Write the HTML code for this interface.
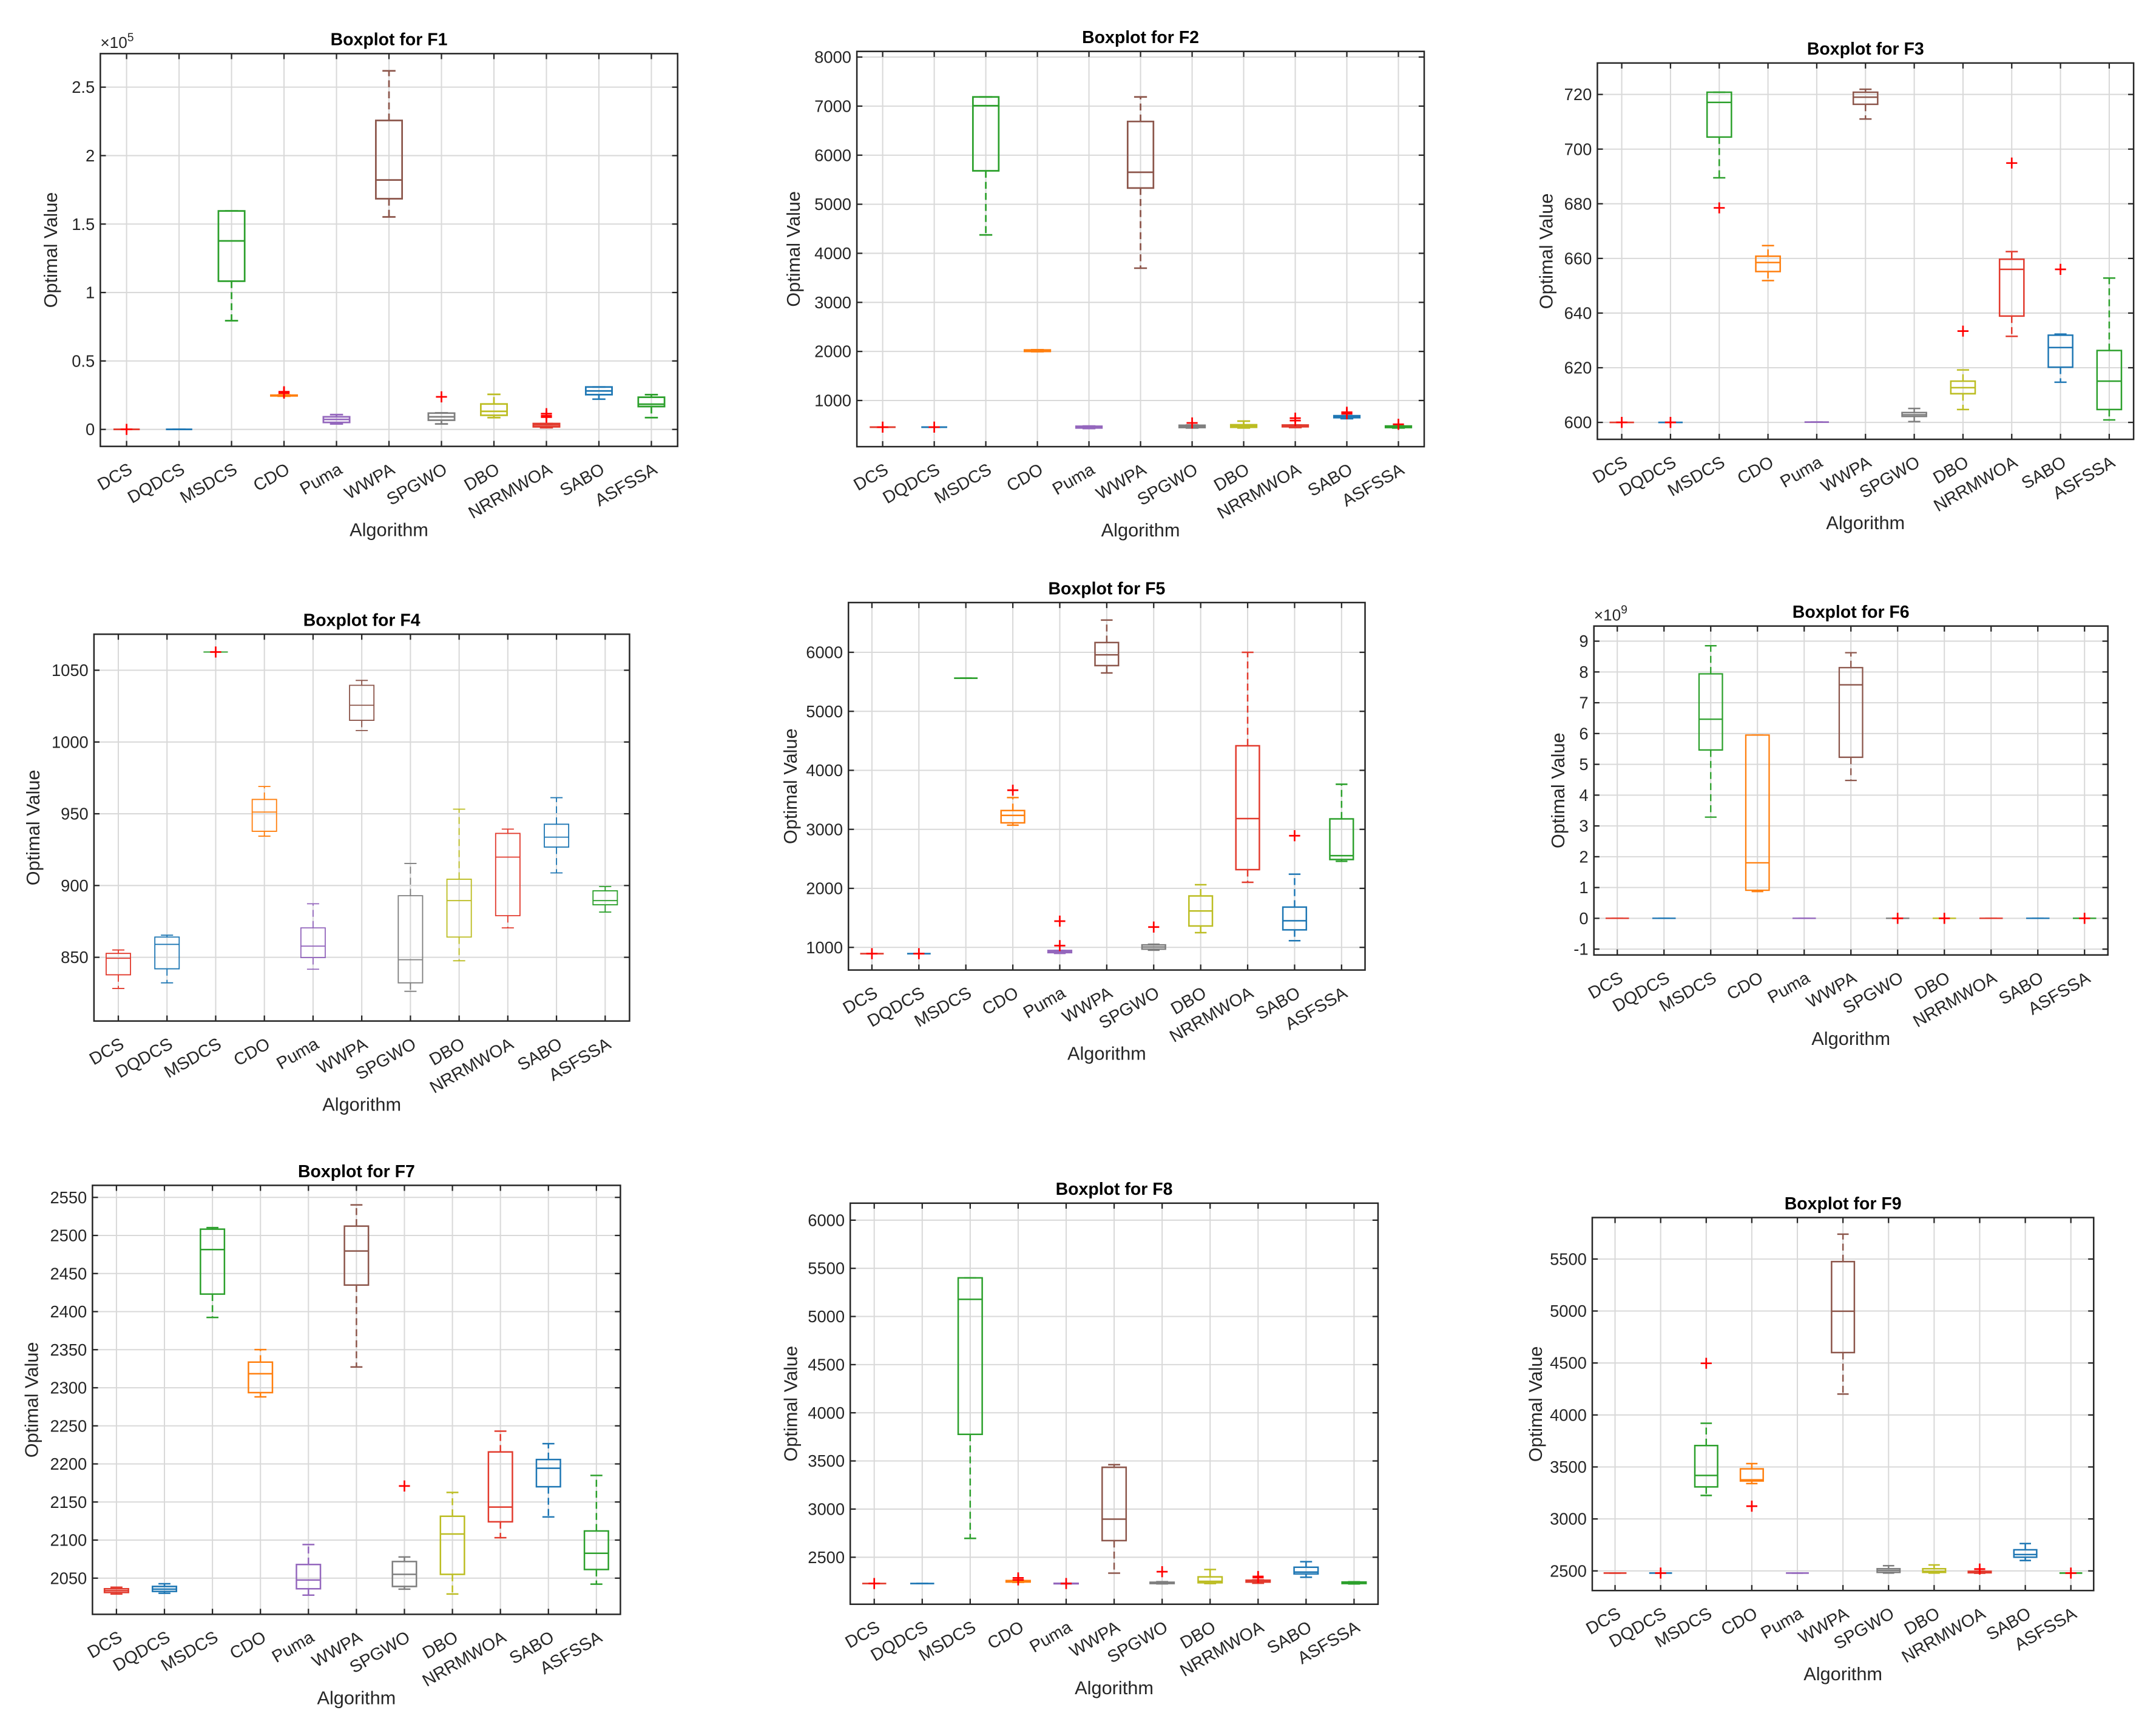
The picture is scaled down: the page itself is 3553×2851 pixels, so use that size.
<!DOCTYPE html>
<html><head><meta charset="utf-8"><title>Boxplots F1-F9</title>
<style>
html,body{margin:0;padding:0;background:#fff;}
svg{display:block;}
text{font-family:"Liberation Sans",Arial,sans-serif;fill:#262626;}
</style></head>
<body>
<svg id="fig" xmlns="http://www.w3.org/2000/svg" width="3553" height="2851" viewBox="0 0 1560 1251.8" preserveAspectRatio="none"></svg>
<script>
const categories = ['DCS','DQDCS','MSDCS','CDO','Puma','WWPA','SPGWO','DBO','NRRMWOA','SABO','ASFSSA'];

// F1 (x1e5)
const f1Low  = [0,0,0.794,0.243,0.040,1.552,0.040,0.086,0.013,0.221,0.086];
const f1Q1   = [0,0,1.083,0.245,0.051,1.685,0.067,0.103,0.019,0.254,0.167];
const f1Med  = [0,0,1.377,0.248,0.073,1.822,0.092,0.132,0.032,0.281,0.184];
const f1Q3   = [0,0,1.596,0.250,0.092,2.257,0.119,0.186,0.043,0.310,0.235];
const f1High = [0,0,1.596,0.252,0.108,2.619,0.121,0.256,0.043,0.310,0.254];
const f1Out  = [[0],[],[],[0.265,0.27,0.275],[],[],[0.238],[],[0.09,0.10,0.115],[],[]];
const f1Ticks = [0,0.5,1,1.5,2,2.5];
const f1TickLabels = ['0','0.5','1','1.5','2','2.5'];

// F2
const f2Low  = [458,458,4375,1995,430,3697,440,440,450,630,440];
const f2Q1   = [458,458,5681,2000,440,5331,450,455,465,650,450];
const f2Med  = [458,458,7008,2015,455,5652,470,480,480,665,460];
const f2Q3   = [458,458,7187,2030,475,6687,495,505,500,690,480];
const f2High = [458,458,7187,2035,480,7187,500,579,500,690,480];
const f2Out  = [[458],[458],[],[],[],[],[543],[],[590,640],[730,760],[515]];
const f2Ticks = [1000,2000,3000,4000,5000,6000,7000,8000];
const f2TickLabels = ['1000','2000','3000','4000','5000','6000','7000','8000'];

// F3
const f3Low  = [600,600,689.5,651.9,600.1,711.0,600.3,604.7,631.5,614.7,600.9];
const f3Q1   = [600,600,704.4,655.2,600.1,716.4,602.2,610.5,638.9,620.2,604.7];
const f3Med  = [600,600,717.1,658.5,600.1,719.0,602.8,612.7,656.0,627.4,615.1];
const f3Q3   = [600,600,720.8,660.8,600.1,720.8,603.6,615.1,659.7,631.9,626.3];
const f3High = [600,600,720.8,664.7,600.1,721.9,605.1,619.2,662.5,632.3,652.8];
const f3Out  = [[600],[600],[678.5],[],[],[],[],[633.4],[694.9],[656],[]];
const f3Ticks = [600,620,640,660,680,700,720];
const f3TickLabels = ['600','620','640','660','680','700','720'];

// F4
const f4Low  = [828.3,832.2,1062.7,934.4,841.7,1008.0,826.3,847.6,870.5,908.8,881.5];
const f4Q1   = [837.8,842.0,1062.7,937.8,849.8,1015.1,832.2,864.1,879.0,926.8,886.6];
const f4Med  = [849.3,859.0,1062.7,951.2,857.8,1025.6,848.3,889.5,919.8,933.7,889.5];
const f4Q3   = [852.7,864.1,1062.7,960.0,870.5,1039.5,892.9,904.4,936.3,942.7,896.3];
const f4High = [855.1,865.4,1062.7,969.0,887.3,1042.9,915.4,953.2,939.3,961.2,899.3];
const f4Out  = [[],[],[1062.7],[],[],[],[],[],[],[],[]];
const f4Ticks = [850,900,950,1000,1050];
const f4TickLabels = ['850','900','950','1000','1050'];

// F5
const f5Low  = [893,893,5561,3070,899,5650,953,1249,2103,1113,2459];
const f5Q1   = [893,893,5561,3111,911,5775,970,1362,2317,1297,2489];
const f5Med  = [893,893,5561,3236,929,5958,1006,1617,3183,1451,2554];
const f5Q3   = [893,893,5561,3319,947,6166,1042,1872,4416,1682,3177];
const f5High = [893,893,5561,3539,947,6546,1053,2062,6000,2240,3764];
const f5Out  = [[893],[893],[],[3663],[1030,1445],[],[1344],[],[],[2892],[]];
const f5Ticks = [1000,2000,3000,4000,5000,6000];
const f5TickLabels = ['1000','2000','3000','4000','5000','6000'];

// F6 (x1e9)
const f6Low  = [0,0,3.286,0.869,0,4.478,0,0,0,0,0];
const f6Q1   = [0,0,5.466,0.912,0,5.230,0,0,0,0,0];
const f6Med  = [0,0,6.465,1.803,0,7.582,0,0,0,0,0];
const f6Q3   = [0,0,7.937,5.950,0,8.140,0,0,0,0,0];
const f6High = [0,0,8.850,5.950,0,8.624,0,0,0,0,0];
const f6Out  = [[],[],[],[],[],[],[0],[0],[],[],[0]];
const f6Ticks = [-1,0,1,2,3,4,5,6,7,8,9];
const f6TickLabels = ['-1','0','1','2','3','4','5','6','7','8','9'];

// F7
const f7Low  = [2029.2,2030.2,2392.3,2288.1,2027.7,2327.3,2035.6,2029.2,2103.1,2130.4,2042.1];
const f7Q1   = [2031.2,2032.6,2423.0,2293.6,2036.1,2434.9,2039.1,2055.0,2124.0,2170.0,2061.4];
const f7Med  = [2033.6,2035.6,2481.5,2318.4,2047.5,2479.6,2055.0,2108.0,2143.3,2194.3,2082.7];
const f7Q3   = [2036.1,2039.1,2508.3,2333.7,2067.9,2512.3,2071.8,2131.3,2215.7,2205.8,2112.0];
const f7High = [2038.1,2042.6,2510.3,2350.1,2094.1,2540.1,2077.8,2162.6,2243.0,2226.6,2184.9];
const f7Out  = [[],[],[],[],[],[],[2171],[],[],[],[]];
const f7Ticks = [2050,2100,2150,2200,2250,2300,2350,2400,2450,2500,2550];
const f7TickLabels = ['2050','2100','2150','2200','2250','2300','2350','2400','2450','2500','2550'];

// F8
const f8Low  = [2227,2227,2696,2240,2224,2335,2224,2227,2230,2292,2223];
const f8Q1   = [2227,2227,3776,2243,2225,2673,2227,2235,2242,2327,2227];
const f8Med  = [2227,2227,5178,2250,2227,2896,2235,2250,2252,2346,2236];
const f8Q3   = [2227,2227,5401,2258,2229,3434,2240,2296,2262,2396,2243];
const f8High = [2227,2227,5401,2262,2230,3461,2246,2373,2265,2454,2245];
const f8Out  = [[2227],[],[],[2265,2285],[2227],[],[2350],[],[2289,2300],[],[]];
const f8Ticks = [2500,3000,3500,4000,4500,5000,5500,6000];
const f8TickLabels = ['2500','3000','3500','4000','4500','5000','5500','6000'];

// F9
const f9Low  = [2479,2479,3226,3340,2479,4201,2479,2479,2478,2600,2479];
const f9Q1   = [2479,2479,3308,3365,2479,4600,2486,2486,2482,2632,2479];
const f9Med  = [2479,2479,3418,3376,2479,4998,2504,2496,2490,2657,2479];
const f9Q3   = [2479,2479,3706,3482,2479,5475,2521,2521,2496,2703,2479];
const f9High = [2479,2479,3920,3532,2479,5739,2550,2557,2498,2763,2479];
const f9Out  = [[],[2479],[4497],[3123],[],[],[],[],[2518],[],[2479]];
const f9Ticks = [2500,3000,3500,4000,4500,5000,5500];
const f9TickLabels = ['2500','3000','3500','4000','4500','5000','5500'];

const colors = ['#e23b2e','#1f77b4','#2ca02c','#ff7f0e','#9467bd','#8c564b','#7f7f7f','#bcbd22','#e23b2e','#1f77b4','#2ca02c'];

const panels = [
 {n:1,L:72.6,R:490.3,T:38.8,B:323,ymin:-0.124,ymax:2.745,lo:f1Low,q1:f1Q1,md:f1Med,q3:f1Q3,hi:f1High,out:f1Out,ticks:f1Ticks,tl:f1TickLabels,exp:'5',yo:36,lw:1.2},
 {n:2,L:620,R:1030.5,T:37.2,B:323.2,ymin:59,ymax:8115,lo:f2Low,q1:f2Q1,md:f2Med,q3:f2Q3,hi:f2High,out:f2Out,ticks:f2Ticks,tl:f2TickLabels,yo:46,lw:1.2},
 {n:3,L:1155.8,R:1543.8,T:45.6,B:317.9,ymin:593.8,ymax:731.5,lo:f3Low,q1:f3Q1,md:f3Med,q3:f3Q3,hi:f3High,out:f3Out,ticks:f3Ticks,tl:f3TickLabels,yo:37,lw:1.1},
 {n:4,L:68,R:455.5,T:458.9,B:738.8,ymin:805.6,ymax:1075.1,lo:f4Low,q1:f4Q1,md:f4Med,q3:f4Q3,hi:f4High,out:f4Out,ticks:f4Ticks,tl:f4TickLabels,yo:44,lw:0.8},
 {n:5,L:613.9,R:987.7,T:436,B:701.9,ymin:616,ymax:6843,lo:f5Low,q1:f5Q1,md:f5Med,q3:f5Q3,hi:f5High,out:f5Out,ticks:f5Ticks,tl:f5TickLabels,yo:42,lw:1.1},
 {n:6,L:1153.3,R:1525.2,T:453,B:691,ymin:-1.19,ymax:9.49,lo:f6Low,q1:f6Q1,md:f6Med,q3:f6Q3,hi:f6High,out:f6Out,ticks:f6Ticks,tl:f6TickLabels,exp:'9',yo:26,lw:1.0},
 {n:7,L:66.9,R:448.9,T:857.7,B:1168.1,ymin:2002.5,ymax:2565.8,lo:f7Low,q1:f7Q1,md:f7Med,q3:f7Q3,hi:f7High,out:f7Out,ticks:f7Ticks,tl:f7TickLabels,yo:44,lw:1.1},
 {n:8,L:615.2,R:997.1,T:870.6,B:1160.8,ymin:2012,ymax:6176.5,lo:f8Low,q1:f8Q1,md:f8Med,q3:f8Q3,hi:f8High,out:f8Out,ticks:f8Ticks,tl:f8TickLabels,yo:43,lw:1.1},
 {n:9,L:1152.1,R:1514.9,T:881,B:1150.9,ymin:2311,ymax:5899,lo:f9Low,q1:f9Q1,md:f9Med,q3:f9Q3,hi:f9High,out:f9Out,ticks:f9Ticks,tl:f9TickLabels,yo:41,lw:1.1}
];

const NS = 'http://www.w3.org/2000/svg';
const svg = document.getElementById('fig');
function mk(tag, attrs, parent){
  const e = document.createElementNS(NS, tag);
  for (const k in attrs) e.setAttribute(k, attrs[k]);
  parent.appendChild(e);
  return e;
}

panels.forEach(p => {
  const g = mk('g', {}, svg);
  
  
  const W = p.R - p.L, step = W / categories.length;
  const xOf = i => p.L + (i + 0.5) * step;
  const yOf = v => p.B - (v - p.ymin) / (p.ymax - p.ymin) * (p.B - p.T);

  p.ticks.forEach((t, i) => {
    const y = yOf(t);
    const gl = mk('line', {x1:p.L, x2:p.R, y1:y, y2:y, stroke:'#d9d9d9', 'stroke-width':0.9}, g);
    
    
    const tk1 = mk('line', {x1:p.L, x2:p.L+4, y1:y, y2:y, stroke:'#262626', 'stroke-width':1}, g);
    
    
    const tk2 = mk('line', {x1:p.R-4, x2:p.R, y1:y, y2:y, stroke:'#262626', 'stroke-width':1}, g);
    
    
    const tl = mk('text', {x:p.L-4, y:y+4.2, 'text-anchor':'end', 'font-size':12}, g);
    tl.textContent = p.tl[i];
    
    
  });
  categories.forEach((c, i) => {
    const x = xOf(i);
    const gl = mk('line', {x1:x, x2:x, y1:p.T, y2:p.B, stroke:'#d9d9d9', 'stroke-width':0.9}, g);
    
    
    const tb = mk('line', {x1:x, x2:x, y1:p.B-4, y2:p.B, stroke:'#262626', 'stroke-width':1}, g);
    
    
    const tt = mk('line', {x1:x, x2:x, y1:p.T, y2:p.T+4, stroke:'#262626', 'stroke-width':1}, g);
    
    
    const lx = x + 5, ly = p.B + 19;
    const lab = mk('text', {x:lx, y:ly, 'text-anchor':'end', 'font-size':12.5, transform:'rotate(-30 '+lx+' '+ly+')'}, g);
    lab.textContent = c;
    
    
  });

  categories.forEach((c, i) => {
    const x = xOf(i), hw = step * 0.25, cw = step * 0.125, col = colors[i];
    const bg = mk('g', {stroke:col, 'stroke-width':p.lw, fill:'none'}, g);
    
    
    const yq1 = yOf(p.q1[i]), yq3 = yOf(p.q3[i]), ymd = yOf(p.md[i]), ylo = yOf(p.lo[i]), yhi = yOf(p.hi[i]);
    const w1 = mk('line', {x1:x, x2:x, y1:yq3, y2:yhi, 'stroke-dasharray':'5,3'}, bg);
    
    
    const w2 = mk('line', {x1:x, x2:x, y1:yq1, y2:ylo, 'stroke-dasharray':'5,3'}, bg);
    
    
    const c1 = mk('line', {x1:x-cw, x2:x+cw, y1:yhi, y2:yhi}, bg);
    
    
    const c2 = mk('line', {x1:x-cw, x2:x+cw, y1:ylo, y2:ylo}, bg);
    
    
    const bx = mk('path', {d:'M'+(x-hw)+' '+yq1+'H'+(x+hw)+'V'+yq3+'H'+(x-hw)+'Z'}, bg);
    
    
    const md = mk('line', {x1:x-hw, x2:x+hw, y1:ymd, y2:ymd}, bg);
    
    
    p.out[i].forEach(v => {
      const y = yOf(v);
      const o = mk('path', {d:'M'+(x-4)+' '+y+'H'+(x+4)+'M'+x+' '+(y-4)+'V'+(y+4), stroke:'#ff0000', 'stroke-width':1.2, fill:'none'}, g);
      
      
    });
  });

  const fr = mk('rect', {x:p.L, y:p.T, width:W, height:p.B-p.T, fill:'none', stroke:'#262626', 'stroke-width':1.1}, g);
  
  

  const cx = (p.L + p.R) / 2;
  const ti = mk('text', {x:cx, y:p.T-6, 'text-anchor':'middle', 'font-size':12.5, 'font-weight':'bold', style:'fill:#000'}, g);
  ti.textContent = 'Boxplot for F' + p.n;
  
  

  const xl = mk('text', {x:cx, y:p.B+65, 'text-anchor':'middle', 'font-size':13.5}, g);
  xl.textContent = 'Algorithm';
  
  

  const yx = p.L - p.yo, yy = (p.T + p.B) / 2;
  const yl = mk('text', {x:yx, y:yy, 'text-anchor':'middle', 'font-size':13.5, transform:'rotate(-90 '+yx+' '+yy+')', 'dominant-baseline':'central'}, g);
  yl.textContent = 'Optimal Value';
  
  

  if (p.exp) {
    const ex = mk('text', {x:p.L, y:p.T-4, 'font-size':11.5}, g);
    ex.textContent = '\u00d710';
    const sup = mk('tspan', {dy:-5, 'font-size':8.5}, ex);
    sup.textContent = p.exp;
    
    
  }
});
</script>
</body></html>
